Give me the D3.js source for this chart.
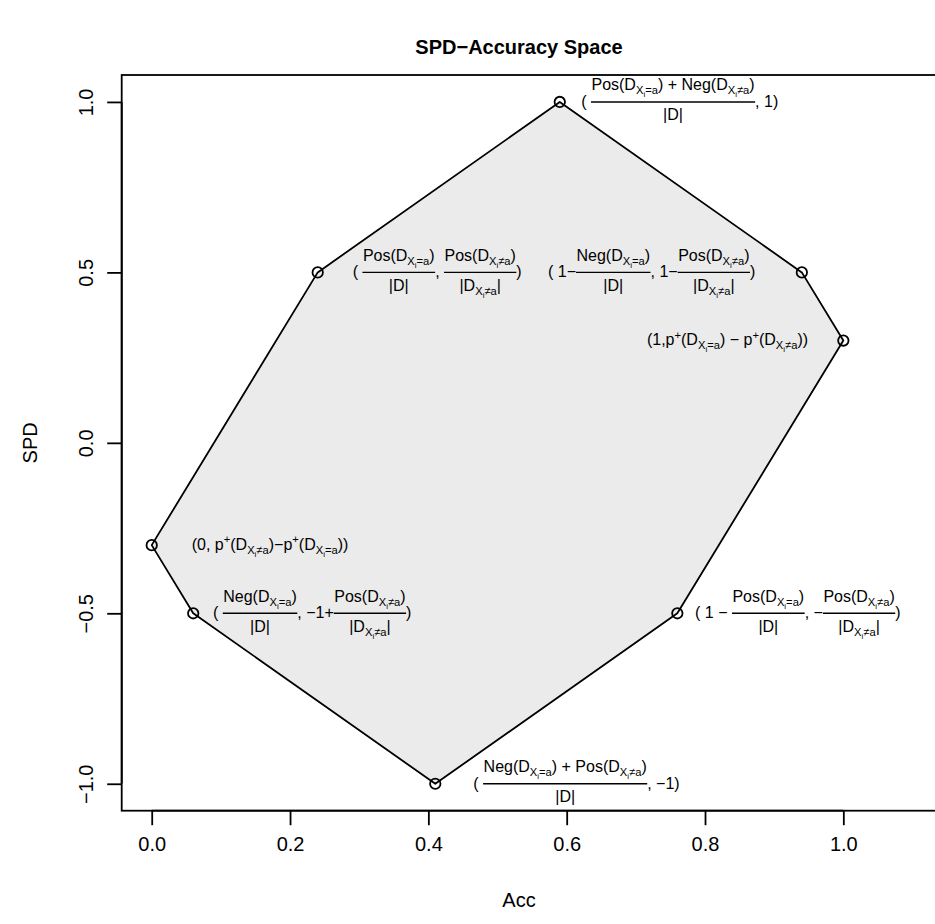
<!DOCTYPE html>
<html><head><meta charset="utf-8">
<script src="https://cdn.jsdelivr.net/npm/d3@7"></script>
<style>body{margin:0;background:#fff}svg{display:block}</style>
</head><body>
<svg id="chart" width="935" height="924"></svg>
<script>
// ---- data ----
const accValues = [0.59, 0.94, 1.0, 0.76, 0.41, 0.06, 0.0, 0.24];
const spdValues = [1.0, 0.5, 0.3, -0.5, -1.0, -0.5, -0.3, 0.5];
const xTicks = [0, 0.2, 0.4, 0.6, 0.8, 1.0];
const xTickLabels = ["0.0", "0.2", "0.4", "0.6", "0.8", "1.0"];
const yTicks = [-1, -0.5, 0, 0.5, 1];
const yTickLabels = ["\u22121.0", "\u22120.5", "0.0", "0.5", "1.0"];
// label anchor (left edge, data units) and plotmath-like markup
const labelAcc = [0.621, 0.573, 0.716, 0.7856, 0.465, 0.0886, 0.0578, 0.2905];
const labelSpd = [1.0, 0.5, 0.3, -0.5, -1.0, -0.5, -0.3, 0.5];
const labelText = [
  "( \\frac{Pos(D_{X_{i}=a}) + Neg(D_{X_{i}\u2260a})}{|D|}, 1)",
  "( 1\u2212\\frac{Neg(D_{X_{i}=a})}{|D|}, 1\u2212\\frac{Pos(D_{X_{i}\u2260a})}{|D_{X_{i}\u2260a}|})",
  "(1,p^{+}(D_{X_{i}=a}) \u2212 p^{+}(D_{X_{i}\u2260a}))",
  "( 1 \u2212 \\frac{Pos(D_{X_{i}=a})}{|D|}, \u2212\\frac{Pos(D_{X_{i}\u2260a})}{|D_{X_{i}\u2260a}|})",
  "( \\frac{Neg(D_{X_{i}=a}) + Pos(D_{X_{i}\u2260a})}{|D|}, \u22121)",
  "( \\frac{Neg(D_{X_{i}=a})}{|D|}, \u22121+\\frac{Pos(D_{X_{i}\u2260a})}{|D_{X_{i}\u2260a}|})",
  "(0, p^{+}(D_{X_{i}\u2260a})\u2212p^{+}(D_{X_{i}=a}))",
  "( \\frac{Pos(D_{X_{i}=a})}{|D|}, \\frac{Pos(D_{X_{i}\u2260a})}{|D_{X_{i}\u2260a}|})"
];
const chartTitle = "SPD\u2212Accuracy Space";
const xTitle = "Acc", yTitle = "SPD";

// ---- layout ----
const FONT = "'Liberation Sans', Arial, Helvetica, sans-serif";
const plotL = 121.7, plotR = 945, plotT = 75, plotB = 810.7;
const x = d3.scaleLinear().domain([-0.0434, 1.1470]).range([plotL, plotR]);
const y = d3.scaleLinear().domain([-1.079, 1.079]).range([plotB, plotT]);
const svg = d3.select("#chart").attr("font-family", FONT);
const LW = 1.8;

// polygon
const pts = accValues.map((a, i) => [x(a), y(spdValues[i])]);
svg.append("path")
  .attr("d", d3.line()(pts) + "Z")
  .attr("fill", "#ebebeb").attr("stroke", "#000").attr("stroke-width", LW)
  .attr("stroke-linejoin", "round");

svg.selectAll("circle.pt").data(accValues).enter().append("circle")
  .attr("cx", (d) => x(d)).attr("cy", (d, i) => y(spdValues[i]))
  .attr("r", 5.2).attr("fill", "none").attr("stroke", "#000").attr("stroke-width", LW);

// box (left, top, bottom; right edge off canvas)
svg.append("rect").attr("x", plotL).attr("y", plotT)
  .attr("width", plotR - plotL).attr("height", plotB - plotT)
  .attr("fill", "none").attr("stroke", "#000").attr("stroke-width", LW);

// axes
const xAxis = d3.axisBottom(x).tickValues(xTicks).tickFormat((d, i) => xTickLabels[i])
  .tickSizeOuter(0).tickSizeInner(14.5).tickPadding(12);
const gx = svg.append("g").attr("transform", `translate(0,${plotB})`).call(xAxis);
gx.select(".domain").attr("d", `M${x(0)},0H${x(1)}`);
gx.selectAll("path,line").attr("stroke", "#000").attr("stroke-width", LW);
gx.selectAll("text").attr("font-size", 20).attr("font-family", FONT).attr("fill", "#000");

const yAxis = d3.axisLeft(y).tickValues(yTicks).tickFormat((d, i) => yTickLabels[i])
  .tickSizeOuter(0).tickSizeInner(14.5);
const gy = svg.append("g").attr("transform", `translate(${plotL},0)`).call(yAxis);
gy.select(".domain").attr("d", `M0,${y(-1)}V${y(1)}`);
gy.selectAll("path,line").attr("stroke", "#000").attr("stroke-width", LW);
gy.selectAll("text").attr("font-size", 20).attr("font-family", FONT).attr("fill", "#000")
  .attr("x", 0).attr("dy", null).attr("text-anchor", "middle")
  .attr("dominant-baseline", "central")
  .attr("transform", function () { return "translate(-36,0) rotate(-90)"; });

// titles
svg.append("text").attr("x", 519).attr("y", 54).attr("text-anchor", "middle")
  .attr("font-size", 20).attr("font-weight", "bold").text(chartTitle);
svg.append("text").attr("x", 519).attr("y", 907).attr("text-anchor", "middle")
  .attr("font-size", 20).text(xTitle);
svg.append("text").attr("transform", `translate(37,${(plotT + plotB) / 2}) rotate(-90)`)
  .attr("text-anchor", "middle").attr("font-size", 20).text(yTitle);

// ---- tiny math layout ----
function parse(s) {
  let i = 0;
  function group() { i++; const r = seq("}"); i++; return r; }
  function seq(end) {
    const out = []; let buf = "";
    const flush = () => { if (buf) { out.push({ t: "text", s: buf }); buf = ""; } };
    while (i < s.length && s[i] !== end) {
      if (s.startsWith("\\frac", i)) { flush(); i += 5; const num = group(); const den = group(); out.push({ t: "frac", num, den }); }
      else if (s[i] === "_") { flush(); i++; out.push({ t: "sub", c: group() }); }
      else if (s[i] === "^") { flush(); i++; out.push({ t: "sup", c: group() }); }
      else { buf += s[i]; i++; }
    }
    flush(); return out;
  }
  return seq(undefined);
}
function render(g, toks, x0, base, size) {
  let cx = x0;
  toks.forEach((tok) => {
    if (tok.t === "text") {
      const t = g.append("text").attr("x", cx).attr("y", base).attr("font-size", size)
        .text(tok.s.replace(/ /g, "\u00a0"));
      cx += t.node().getComputedTextLength();
    } else if (tok.t === "sub") {
      cx = render(g, tok.c, cx, base + size * 0.25, size * 0.7);
    } else if (tok.t === "sup") {
      cx = render(g, tok.c, cx, base - size * 0.42, size * 0.7);
    } else if (tok.t === "frac") {
      const ng = g.append("g"), dg = g.append("g");
      const nw = render(ng, tok.num, 0, 0, size);
      const dw = render(dg, tok.den, 0, 0, size);
      const pad = size * 0.03;
      const w = Math.max(nw, dw) + 2 * pad;
      const axis = base - size * 0.3;
      ng.attr("transform", `translate(${cx + (w - nw) / 2},${axis - size * 0.72})`);
      dg.attr("transform", `translate(${cx + (w - dw) / 2},${axis + size * 1.15})`);
      g.append("line").attr("x1", cx).attr("x2", cx + w).attr("y1", axis).attr("y2", axis)
        .attr("stroke", "#000").attr("stroke-width", 1.4);
      cx += w;
    }
  });
  return cx;
}
const LS = 16;
labelText.forEach((m, k) => {
  const g = svg.append("g").attr("class", "lbl");
  render(g, parse(m), x(labelAcc[k]), y(labelSpd[k]) + LS * 0.3, LS);
});
</script>
</body></html>
